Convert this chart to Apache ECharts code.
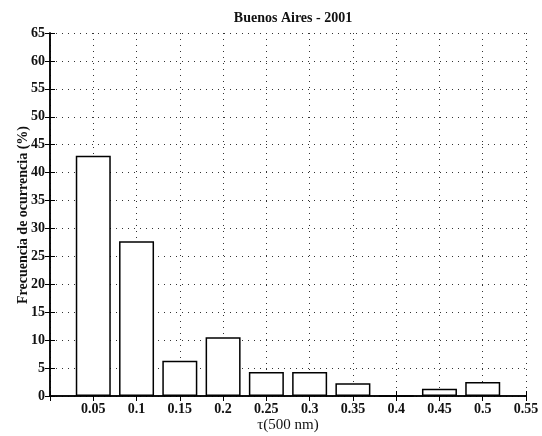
<!DOCTYPE html>
<html>
<head>
<meta charset="utf-8">
<script src="https://cdn.jsdelivr.net/npm/echarts@6/dist/echarts.min.js"></script>
<style>
  html, body { margin: 0; padding: 0; background: #fff; }
  #chart { width: 542px; height: 436px; }
</style>
</head>
<body>
<div id="chart"></div>
<script>
// Histogram of aerosol optical depth at 500 nm, Buenos Aires 2001
const tauCenters = [0.05, 0.1, 0.15, 0.2, 0.25, 0.3, 0.35, 0.4, 0.45, 0.5];
const frequency = [43.0, 27.7, 6.3, 10.5, 4.3, 4.3, 2.3, 0, 1.3, 2.5];

const titleText = 'Buenos Aires - 2001';
const xName = 'τ(500 nm)';
const yName = 'Frecuencia de ocurrencia (%)';

const font = '"Liberation Serif", "DejaVu Serif", serif';
const gridDotted = { show: true, lineStyle: { color: '#333', width: 1, type: [1, 5] } };

const chart = echarts.init(document.getElementById('chart'), null, { renderer: 'canvas' });

const fmtX = v => (Math.abs(v) < 1e-9 ? '' : String(parseFloat(v.toFixed(2))));

chart.setOption({
  animation: false,
  backgroundColor: '#fff',
  title: {
    text: titleText,
    left: 288, top: 6, textAlign: 'center',
    textStyle: { fontFamily: font, fontSize: 14, fontWeight: 'bold', color: '#111' }
  },
  grid: { left: 50, right: 16, top: 33, bottom: 40, containLabel: false, outerBoundsMode: 'none' },
  // axis titles placed as free text
  graphic: [{
    type: 'text', x: 288, y: 425,
    style: { text: xName, font: '15px ' + font, fill: '#111', align: 'center', verticalAlign: 'middle' }
  }, {
    type: 'text', x: 23, y: 215, rotation: Math.PI / 2,
    style: { text: yName, font: 'bold 14px ' + font, fill: '#111', align: 'center', verticalAlign: 'middle' }
  }],
  xAxis: [{
    type: 'value', min: 0, max: 0.55, interval: 0.05,
    axisLine: { show: true, onZero: false, lineStyle: { color: '#000', width: 1.5 } },
    axisTick: { show: true, inside: true, length: 5, lineStyle: { color: '#000' } },
    axisLabel: { formatter: fmtX, fontFamily: font, fontSize: 14, fontWeight: 'bold', color: '#111', margin: 6 },
    splitLine: gridDotted
  }, {
    type: 'value', position: 'top', min: 0, max: 0.55, interval: 0.05,
    axisLine: { show: true, lineStyle: { color: '#000', width: 1.5 } },
    axisTick: { show: true, inside: true, length: 5, lineStyle: { color: '#000' } },
    axisLabel: { show: false }, splitLine: { show: false }
  }],
  yAxis: [{
    type: 'value', min: 0, max: 65, interval: 5,
    axisLine: { show: true, onZero: false, lineStyle: { color: '#000', width: 1.5 } },
    axisTick: { show: true, inside: true, length: 5, lineStyle: { color: '#000' } },
    axisLabel: { fontFamily: font, fontSize: 14, fontWeight: 'bold', color: '#111', margin: 5 },
    splitLine: gridDotted
  }, {
    type: 'value', position: 'right', min: 0, max: 65, interval: 5,
    axisLine: { show: true, lineStyle: { color: '#000', width: 1.5 } },
    axisTick: { show: true, inside: true, length: 5, lineStyle: { color: '#000' } },
    axisLabel: { show: false }, splitLine: { show: false }
  }],
  series: [{
    type: 'bar',
    xAxisIndex: 0, yAxisIndex: 0,
    barWidth: 35,
    data: tauCenters.map((t, i) => [t, frequency[i]]),
    itemStyle: { color: '#fff', borderColor: '#000', borderWidth: 1.5 },
    z: 3
  }]
});
</script>
</body>
</html>
